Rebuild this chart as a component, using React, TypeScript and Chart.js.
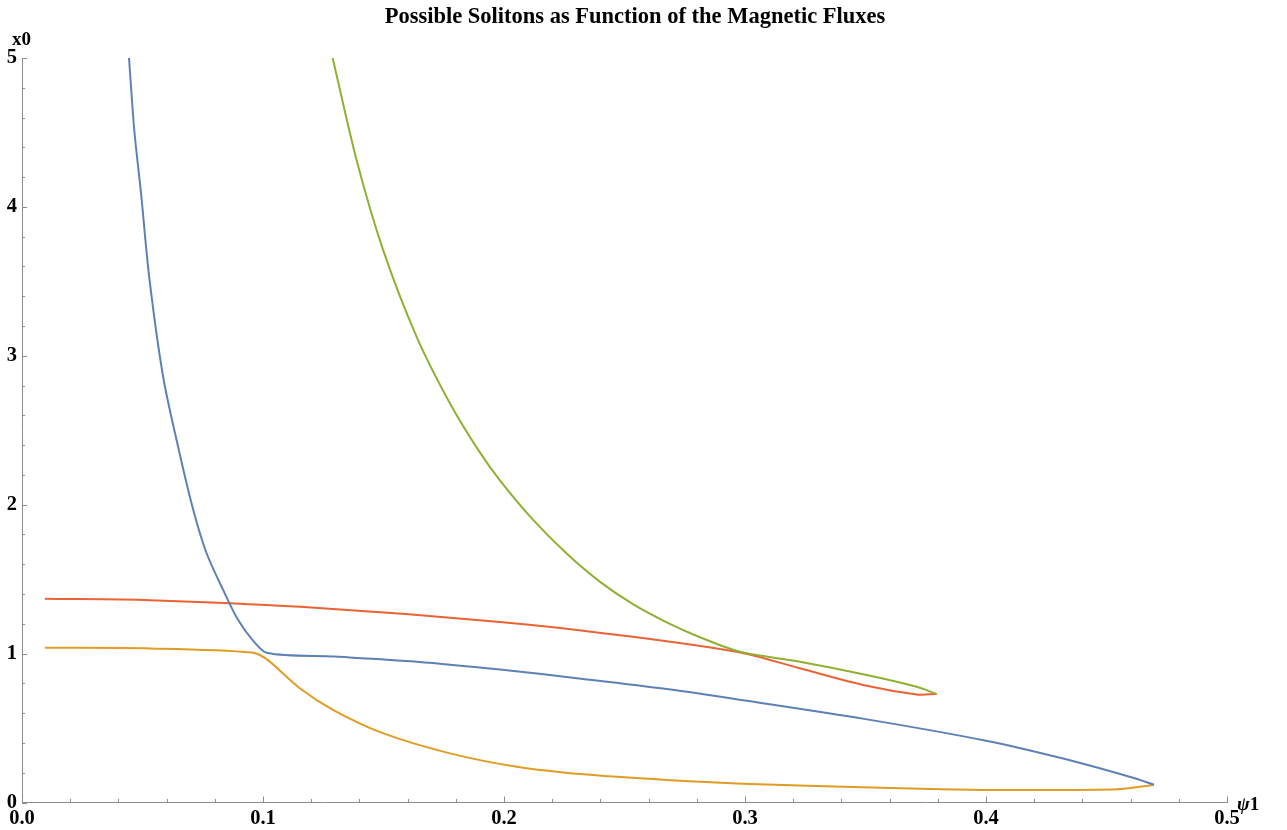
import React, { useEffect, useRef } from "react";
import { Chart, registerables } from "chart.js";

Chart.register(...registerables);

const TITLE = "Possible Solitons as Function of the Magnetic Fluxes";
const X_LABEL_GREEK = "ψ";
const X_LABEL_DIGIT = "1";
const Y_LABEL = "x0";

const blueX = [0.0444, 0.0466, 0.0494, 0.0528, 0.0586, 0.0651, 0.0711, 0.0766, 0.0835, 0.0897, 0.0957, 0.1018, 0.13, 0.1638, 0.1983, 0.2328, 0.2675, 0.3, 0.35, 0.4, 0.432, 0.461, 0.4697];
const blueY = [5.0, 4.513, 4.091, 3.527, 2.856, 2.366, 1.963, 1.674, 1.426, 1.225, 1.091, 1.004, 0.98, 0.946, 0.893, 0.83, 0.762, 0.685, 0.56, 0.415, 0.295, 0.166, 0.119];

const orangeX = [0.0095, 0.0531, 0.0953, 0.1015, 0.1154, 0.1292, 0.15, 0.1776, 0.2053, 0.2329, 0.2675, 0.302, 0.3643, 0.3989, 0.4266, 0.4542, 0.4639, 0.4697];
const orangeY = [1.039, 1.035, 1.008, 0.963, 0.766, 0.621, 0.464, 0.33, 0.24, 0.189, 0.151, 0.124, 0.095, 0.084, 0.084, 0.089, 0.106, 0.119];

const greenX = [0.1289, 0.1389, 0.1499, 0.1638, 0.1776, 0.1893, 0.1983, 0.212, 0.226, 0.24, 0.2537, 0.2675, 0.2813, 0.298, 0.3228, 0.3505, 0.3712, 0.3795];
const greenY = [5.0, 4.31, 3.708, 3.126, 2.68, 2.368, 2.164, 1.9, 1.672, 1.48, 1.33, 1.21, 1.11, 1.012, 0.945, 0.856, 0.777, 0.729];

const redX = [0.0095, 0.0531, 0.1154, 0.1983, 0.2481, 0.298, 0.3228, 0.3505, 0.3712, 0.3795];
const redY = [1.368, 1.359, 1.314, 1.213, 1.124, 1.008, 0.901, 0.784, 0.726, 0.728];

const X_MIN = 0;
const X_MAX = 0.5;
const X_STEP = 0.1;
const X_MINOR = 0.02;
const Y_MIN = 0;
const Y_MAX = 5;
const Y_STEP = 1;
const Y_MINOR = 0.2;

const FONT_FAMILY = '"Liberation Serif", "Times New Roman", serif';
const AXIS_COLOR = "#8c8c8c";

const toPoints = (xs: number[], ys: number[]) => xs.map((x, i) => ({ x, y: ys[i] }));

const decorPlugin = {
  id: "decor",
  afterDraw(chart: any) {
    const ctx = chart.ctx as CanvasRenderingContext2D;
    const xs = chart.scales.x;
    const ys = chart.scales.y;
    const area = chart.chartArea;
    ctx.save();
    ctx.strokeStyle = AXIS_COLOR;
    ctx.lineWidth = 1;
    const nx = Math.round((X_MAX - X_MIN) / X_MINOR);
    const perMajorX = Math.round(X_STEP / X_MINOR);
    for (let i = 0; i <= nx; i++) {
      const px = Math.round(xs.getPixelForValue(X_MIN + i * X_MINOR)) + 0.5;
      const len = i % perMajorX === 0 ? 6 : 3.5;
      ctx.beginPath();
      ctx.moveTo(px, area.bottom);
      ctx.lineTo(px, area.bottom - len);
      ctx.stroke();
    }
    const ny = Math.round((Y_MAX - Y_MIN) / Y_MINOR);
    const perMajorY = Math.round(Y_STEP / Y_MINOR);
    for (let i = 0; i <= ny; i++) {
      const py = Math.round(ys.getPixelForValue(Y_MIN + i * Y_MINOR)) + 0.5;
      const len = i % perMajorY === 0 ? 5 : 3;
      ctx.beginPath();
      ctx.moveTo(area.left, py);
      ctx.lineTo(area.left + len, py);
      ctx.stroke();
    }
    ctx.fillStyle = "#000";
    ctx.font = `bold 22.5px ${FONT_FAMILY}`;
    ctx.textAlign = "center";
    ctx.textBaseline = "alphabetic";
    ctx.fillText(TITLE, 635, 23);
    ctx.font = `bold 19px ${FONT_FAMILY}`;
    ctx.textAlign = "left";
    ctx.fillText(Y_LABEL, area.left - 10, area.top - 13);
    const lx = area.right + 10;
    const ly = area.bottom + 7;
    ctx.font = `italic bold 19px ${FONT_FAMILY}`;
    ctx.fillText(X_LABEL_GREEK, lx, ly);
    const w = ctx.measureText(X_LABEL_GREEK).width;
    ctx.font = `bold 19px ${FONT_FAMILY}`;
    ctx.fillText(X_LABEL_DIGIT, lx + w, ly);
    ctx.restore();
  },
};

export default function App() {
  const ref = useRef<HTMLCanvasElement | null>(null);
  useEffect(() => {
    document.body.style.margin = "0";
    const canvas = ref.current;
    if (!canvas) return;
    const line = (data: { x: number; y: number }[], color: string) => ({
      data,
      borderColor: color,
      backgroundColor: color,
      borderWidth: 2,
      pointRadius: 0,
      showLine: true,
      fill: false,
      tension: 0.3,
    });
    const tickFont = { family: FONT_FAMILY, size: 20.5, weight: "bold" as const };
    const chart = new Chart(canvas, {
      type: "scatter",
      data: {
        datasets: [
          line(toPoints(blueX, blueY), "#5E81B5"),
          line(toPoints(orangeX, orangeY), "#E19C24"),
          line(toPoints(greenX, greenY), "#8FB032"),
          line(toPoints(redX, redY), "#EB6235"),
        ],
      },
      options: {
        animation: false,
        responsive: false,
        devicePixelRatio: window.devicePixelRatio || 1,
        layout: { padding: { left: 0, right: 60, top: 58, bottom: 0 } },
        plugins: {
          legend: { display: false },
          title: { display: false },
          tooltip: { enabled: false },
        },
        scales: {
          x: {
            type: "linear",
            min: X_MIN,
            max: X_MAX,
            ticks: {
              stepSize: X_STEP,
              autoSkip: false,
              maxRotation: 0,
              padding: 4,
              color: "#000",
              font: tickFont,
              callback: (v: any) => Number(v).toFixed(1),
            },
            grid: { display: true, drawOnChartArea: false, drawTicks: false },
            border: { display: true, color: AXIS_COLOR, width: 1 },
            afterFit: (s: any) => {
              s.height = 27.5;
            },
          },
          y: {
            type: "linear",
            min: Y_MIN,
            max: Y_MAX,
            ticks: {
              stepSize: Y_STEP,
              autoSkip: false,
              padding: 5,
              color: "#000",
              font: tickFont,
              callback: (v: any) => String(Math.round(Number(v))),
            },
            grid: { display: true, drawOnChartArea: false, drawTicks: false },
            border: { display: true, color: AXIS_COLOR, width: 1 },
            afterFit: (s: any) => {
              s.width = 22;
            },
          },
        },
      },
      plugins: [decorPlugin],
    });
    return () => chart.destroy();
  }, []);
  return <canvas ref={ref} width={1287} height={830} style={{ display: "block", width: 1287, height: 830 }} />;
}
